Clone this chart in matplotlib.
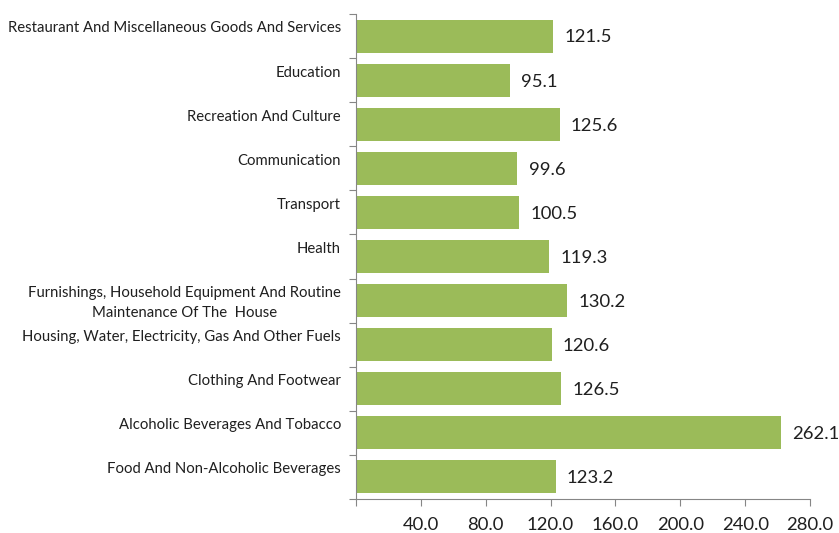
import matplotlib
matplotlib.use("Agg")
import matplotlib.pyplot as plt
from matplotlib.transforms import blended_transform_factory

plt.rcParams["font.family"] = ["Lato", "DejaVu Sans"]

# bottom to top
categories = [
    "Food And Non-Alcoholic Beverages",
    "Alcoholic Beverages And Tobacco",
    "Clothing And Footwear",
    "Housing, Water, Electricity, Gas And Other Fuels",
    "Furnishings, Household Equipment And Routine\nMaintenance Of The  House",
    "Health",
    "Transport",
    "Communication",
    "Recreation And Culture",
    "Education",
    "Restaurant And Miscellaneous Goods And Services",
]
values = [123.2, 262.1, 126.5, 120.6, 130.2, 119.3, 100.5, 99.6, 125.6, 95.1, 121.5]
x_ticks = [0, 40, 80, 120, 160, 200, 240, 280]
x_tick_labels = ["", "40.0", "80.0", "120.0", "160.0", "200.0", "240.0", "280.0"]

text_color = "#1f1f1f"
axis_color = "#868686"

fig = plt.figure(figsize=(8.39, 5.33), dpi=100)
ax = fig.add_axes([356 / 839, 1 - 499 / 533, 454 / 839, 485 / 533])

pos = list(range(len(categories)))
ax.barh(pos, values, height=0.75, color="#9BBB59", zorder=2)

for y, v in zip(pos, values):
    ax.annotate(f"{v:.1f}", (v, y), xytext=(8, -1), textcoords="offset points",
                va="center", ha="left", fontsize=13.3, color=text_color)

# category names sit near the top of each slot, like the original spreadsheet chart
trans = blended_transform_factory(ax.transAxes, ax.transData)
for y, name in zip(pos, categories):
    ax.text(-15 / 454, y + 0.5 - 0.17, name, transform=trans, ha="right", va="top",
            multialignment="center", fontsize=10.7, linespacing=1.55,
            color=text_color)

ax.set_xlim(0, 280)
ax.set_ylim(-0.5, len(categories) - 0.5)
ax.set_xticks(x_ticks)
ax.set_xticklabels(x_tick_labels)
ax.set_yticks([p - 0.5 for p in pos] + [len(categories) - 0.5])
ax.set_yticklabels([])

for side in ["top", "right"]:
    ax.spines[side].set_visible(False)
for side in ["left", "bottom"]:
    ax.spines[side].set_color(axis_color)
ax.tick_params(axis="both", direction="out", length=5, color=axis_color)
ax.tick_params(axis="x", labelsize=13.3, labelcolor=text_color, pad=8)

fig.savefig("out.png", dpi=100)
